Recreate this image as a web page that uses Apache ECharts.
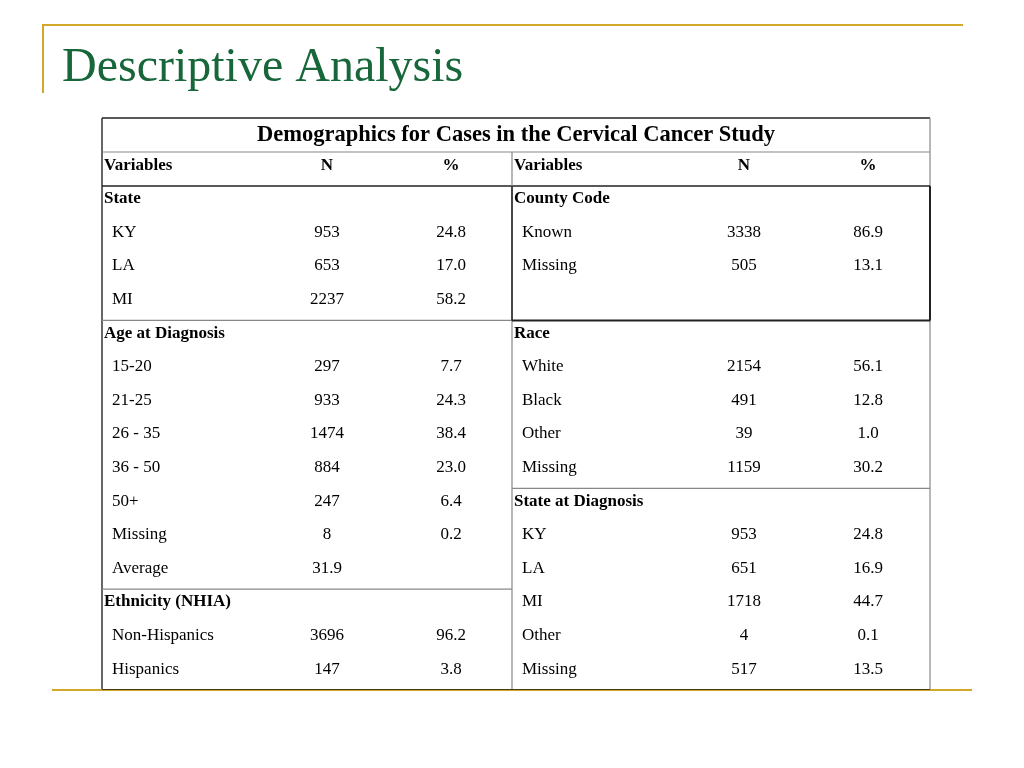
<!DOCTYPE html>
<html>
<head>
<meta charset="utf-8">
<script src="https://cdn.jsdelivr.net/npm/echarts@6/dist/echarts.min.js"></script>
<style>html,body{margin:0;padding:0;background:#fff}#c{width:1024px;height:768px}</style>
</head>
<body>
<div id="c"></div>
<script>
// ---- data ----
const pageTitle = 'Descriptive Analysis';
const tableTitle = 'Demographics for Cases in the Cervical Cancer Study';
const headers = ['Variables', 'N', '%'];
// left block rows (section headers have empty N and %)
const leftLabels = ['State', 'KY', 'LA', 'MI', 'Age at Diagnosis', '15-20', '21-25', '26 - 35', '36 - 50', '50+', 'Missing', 'Average', 'Ethnicity (NHIA)', 'Non-Hispanics', 'Hispanics'];
const leftN =      ['', '953', '653', '2237', '', '297', '933', '1474', '884', '247', '8', '31.9', '', '3696', '147'];
const leftPct =    ['', '24.8', '17.0', '58.2', '', '7.7', '24.3', '38.4', '23.0', '6.4', '0.2', '', '', '96.2', '3.8'];
const leftSection = [true, false, false, false, true, false, false, false, false, false, false, false, true, false, false];
// right block rows
const rightLabels = ['County Code', 'Known', 'Missing', '', 'Race', 'White', 'Black', 'Other', 'Missing', 'State at Diagnosis', 'KY', 'LA', 'MI', 'Other', 'Missing'];
const rightN =      ['', '3338', '505', '', '', '2154', '491', '39', '1159', '', '953', '651', '1718', '4', '517'];
const rightPct =    ['', '86.9', '13.1', '', '', '56.1', '12.8', '1.0', '30.2', '', '24.8', '16.9', '44.7', '0.1', '13.5'];
const rightSection = [true, false, false, false, true, false, false, false, false, true, false, false, false, false, false];

// ---- layout (styles / positions only) ----
const GL = 102, GR = 930, GT = 186, GB = 690;
const HEAD_TOP = 152, TITLE_TOP = 118, MID = 512;
const W = GR - GL;
const COL = { lSec: 2, lItem: 10, lN: 225, lPct: 349, rSec: 412, rItem: 420, rN: 642, rPct: 766 };
const serif = '"Liberation Serif", "Times New Roman", serif';
const GOLD = '#d1a829';
const FS = 17;
const rowIdx = leftLabels.map((_, i) => i);
const rowH = (GB - GT) / rowIdx.length;

function textSeries(name, labels, xFn, alignFn, boldFn) {
  return {
    type: 'custom', name: name, coordinateSystem: 'cartesian2d', silent: true,
    data: labels.map((t, i) => [xFn(i), i, t]),
    renderItem: function (params, api) {
      const p = api.coord([api.value(0), api.value(1)]);
      const i = api.value(1);
      const txt = labels[i];
      if (!txt) return null;
      return {
        type: 'text',
        style: {
          text: txt, x: p[0], y: p[1] - 4,
          align: alignFn(i), verticalAlign: 'middle',
          font: (boldFn(i) ? 'bold ' : '') + FS + 'px ' + serif,
          fill: '#000'
        }
      };
    }
  };
}

const series = [
  textSeries('leftLabels', leftLabels, i => leftSection[i] ? COL.lSec : COL.lItem, () => 'left', i => leftSection[i]),
  textSeries('leftN', leftN, () => COL.lN, () => 'center', () => false),
  textSeries('leftPct', leftPct, () => COL.lPct, () => 'center', () => false),
  textSeries('rightLabels', rightLabels, i => rightSection[i] ? COL.rSec : COL.rItem, () => 'left', i => rightSection[i]),
  textSeries('rightN', rightN, () => COL.rN, () => 'center', () => false),
  textSeries('rightPct', rightPct, () => COL.rPct, () => 'center', () => false)
];

function line(x1, y1, x2, y2, color, w) {
  return { type: 'line', silent: true, shape: { x1, y1, x2, y2 }, style: { stroke: color, lineWidth: w } };
}
function txt(t, x, y, font, align, fill) {
  return { type: 'text', silent: true, style: { text: t, x, y, font, align: align || 'left', verticalAlign: 'middle', fill: fill || '#000' } };
}
const rowY = k => GT + k * rowH;
const hy = (HEAD_TOP + GT) / 2 - 3;

const graphics = [
  // decorative gold frame
  line(42, 25, 963, 25, GOLD, 2),
  line(43, 24, 43, 93, GOLD, 2),
  // page title
  txt(pageTitle, 62, 68, '48px ' + serif, 'left', '#17673a'),
  // table frame
  line(GL, TITLE_TOP, GR, TITLE_TOP, '#222', 1.5),
  line(GL, TITLE_TOP, GL, GB, '#333', 1.5),
  line(GR, TITLE_TOP, GR, GB, '#888', 1.2),
  line(GL, HEAD_TOP, GR, HEAD_TOP, '#888', 1.2),
  line(GL, GT, GR, GT, '#222', 1.5),
  line(MID, HEAD_TOP, MID, GB, '#888', 1.2),
  // section separators
  line(GL, rowY(4), MID, rowY(4), '#888', 1.2),
  line(GL, rowY(12), MID, rowY(12), '#888', 1.2),
  line(MID, rowY(9), GR, rowY(9), '#888', 1.2),
  // county code box (dark)
  line(MID, GT, MID, rowY(4), '#222', 1.5),
  line(GR, GT, GR, rowY(4), '#222', 2),
  line(MID, rowY(4), GR, rowY(4), '#222', 2),
  // bottom gold rule + dark bottom border
  line(52, GB, 972, GB, GOLD, 2),
  line(GL, GB - 0.5, GR, GB - 0.5, '#4a3a10', 1.2),
  // table titles / headers
  txt(tableTitle, (GL + GR) / 2, (TITLE_TOP + HEAD_TOP) / 2, 'bold 22.5px ' + serif, 'center'),
  txt(headers[0], GL + COL.lSec, hy, 'bold ' + FS + 'px ' + serif, 'left'),
  txt(headers[1], GL + COL.lN, hy, 'bold ' + FS + 'px ' + serif, 'center'),
  txt(headers[2], GL + COL.lPct, hy, 'bold ' + FS + 'px ' + serif, 'center'),
  txt(headers[0], GL + COL.rSec, hy, 'bold ' + FS + 'px ' + serif, 'left'),
  txt(headers[1], GL + COL.rN, hy, 'bold ' + FS + 'px ' + serif, 'center'),
  txt(headers[2], GL + COL.rPct, hy, 'bold ' + FS + 'px ' + serif, 'center')
];

const chart = echarts.init(document.getElementById('c'), null, { renderer: 'canvas' });
chart.setOption({
  animation: false,
  backgroundColor: '#fff',
  grid: { left: GL, right: 1024 - GR, top: GT, bottom: 768 - GB, containLabel: false },
  xAxis: { type: 'value', min: 0, max: W, show: false },
  yAxis: { type: 'category', data: rowIdx, inverse: true, show: false },
  series: series,
  graphic: graphics
});
</script>
</body>
</html>
